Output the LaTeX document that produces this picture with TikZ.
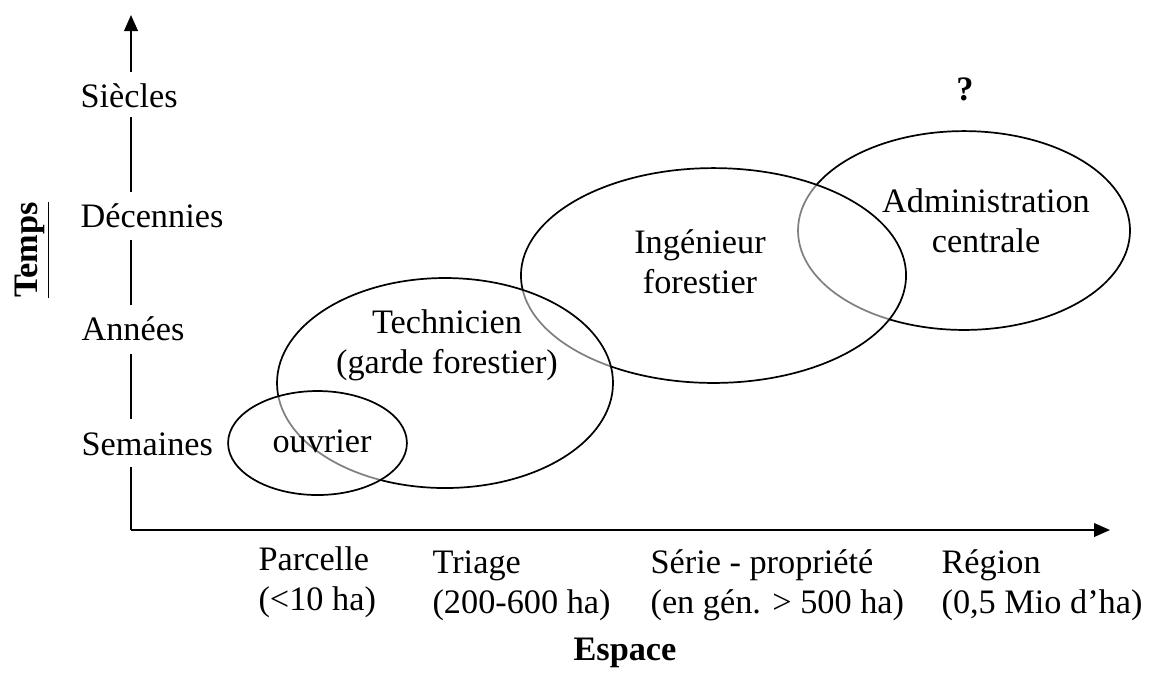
\documentclass[tikz,border=0pt]{standalone}
\usepackage{fontspec}
\setmainfont{Liberation Serif}
\usetikzlibrary{shapes.geometric,arrows.meta}
\begin{document}
\begin{tikzpicture}[x=0.35pt,y=-0.35pt,
  axisline/.style={line width=0.6pt,line cap=butt},
  axisarrow/.style={axisline,-{Triangle[length=5.6pt,width=4.8pt]}},
  zone/.style={ellipse,draw,line width=0.6pt,fill=white,fill opacity=0.5,draw opacity=1,inner sep=0pt},
  txt/.style={font=\fontsize{12}{14}\selectfont,inner sep=0pt},
  lbl/.style={txt,anchor=base west},
  cat/.style={txt,align=left,anchor=base west},
  inzone/.style={txt,align=center,anchor=base}]
\useasboundingbox (0,0) rectangle (1149,672);
% axes
\coordinate (O) at (131,530);
\coordinate (ytop) at (131,15);
\coordinate (xend) at (1110,530);
\draw[axisline] (O) -- (131,467);
\draw[axisline] (131,419) -- (131,354);
\draw[axisline] (131,305) -- (131,240);
\draw[axisline] (131,192) -- (131,117);
\draw[axisarrow] (131,72) -- (ytop);
\draw[axisarrow] (O) -- (xend);
% time labels
\node[lbl] (sie) at (80,107) {Siècles};
\node[lbl] (dec) at (80,227) {Décennies};
\node[lbl] (ann) at (81,340) {Années};
\node[lbl] (sem) at (81,455) {Semaines};
\node[txt,font=\fontsize{12}{14}\selectfont\bfseries,rotate=90,anchor=base] (temps) at (37,250) {\underline{Temps}};
% zones
\node[zone,minimum width=116.2pt,minimum height=69.6pt] (adm) at (964,230.5) {};
\node[zone,minimum width=134.8pt,minimum height=75.2pt] (ing) at (713.5,275.5) {};
\node[zone,minimum width=117.6pt,minimum height=73.5pt] (tec) at (445,383) {};
\node[zone,minimum width=62.6pt,minimum height=36.4pt] (ouv) at (317.5,443) {};
% zone texts (anchor = baseline of last line)
\node[inzone] (tadm) at (986,252) {Administration\\centrale};
\node[inzone] (ting) at (700,293) {Ingénieur\\forestier};
\node[inzone] (ttec) at (447,373) {Technicien\\(garde forestier)};
\node[inzone] (touv) at (322,452) {ouvrier};
\node[txt,font=\fontsize{12}{14}\selectfont\bfseries,anchor=base] (q) at (965,100) {?};
% space labels
\node[cat] (par) at (258,610) {Parcelle\\(<10 ha)};
\node[cat] (tri) at (432,613) {Triage\\(200-600 ha)};
\node[cat] (ser) at (650,613) {Série - propriété\\(en gén. > 500 ha)};
\node[cat] (reg) at (941,613) {Région\\(0,5 Mio d’ha)};
\node[txt,font=\fontsize{12}{14}\selectfont\bfseries,anchor=base] (esp) at (625,660) {Espace};
\end{tikzpicture}
\end{document}
